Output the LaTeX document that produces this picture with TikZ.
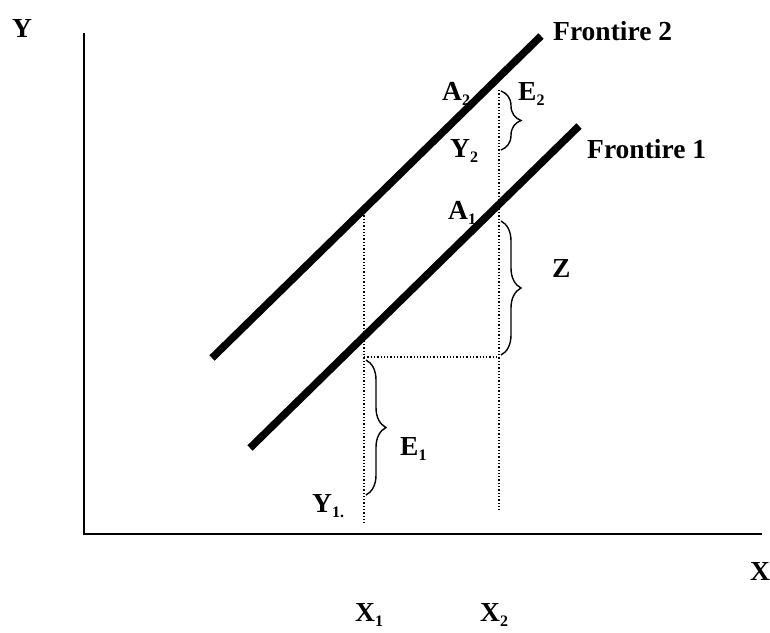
\documentclass[tikz,border=0pt]{standalone}
\usepackage{fontspec}
\setmainfont{Liberation Serif}
\usetikzlibrary{decorations.pathreplacing}
\newcommand{\lowsub}[1]{\raisebox{-5pt}{\fontsize{16}{16}\selectfont #1}}
\begin{document}
\begin{tikzpicture}[x=1pt,y=-1pt,
  lbl/.style={anchor=base west,inner sep=0pt,font=\fontsize{27.5}{30}\selectfont\bfseries},
  frontier/.style={line width=7.5pt},
  axis/.style={line width=2.2pt},
  guide/.style={dotted,line width=1.3pt},
  bracestyle/.style={decorate,decoration={brace,amplitude=20pt},line width=1.4pt}]
\useasboundingbox (0,0) rectangle (770,632);
% axes
\coordinate (o) at (84,534);
\coordinate (ytop) at (84,33);
\coordinate (xend) at (762,534);
\draw[axis] (ytop) -- (o) -- (xend);
% frontiers
\coordinate (f2a) at (212,358);
\coordinate (f2b) at (541,36);
\coordinate (f1a) at (250,448);
\coordinate (f1b) at (579,126);
\draw[frontier] (f2a) -- (f2b);
\draw[frontier] (f1a) -- (f1b);
% guides
\coordinate (g1t) at (364,212);
\coordinate (g1b) at (364,523);
\coordinate (g2t) at (499,90);
\coordinate (g2b) at (499,512);
\coordinate (h1) at (364,357);
\coordinate (h2) at (499,357);
\draw[guide] (g1t) -- (g1b);
\draw[guide] (g2t) -- (g2b);
\draw[guide] (h1) -- (h2);
% braces
\coordinate (b2t) at (501,91);
\coordinate (b2b) at (501,150);
\coordinate (bzt) at (501,221);
\coordinate (bzb) at (501,355);
\coordinate (b1t) at (366,360);
\coordinate (b1b) at (366,495);
\draw[bracestyle] (b2t) -- (b2b);
\draw[bracestyle] (bzt) -- (bzb);
\draw[bracestyle] (b1t) -- (b1b);
% labels
\node[lbl] (ly) at (12,37) {Y};
\node[lbl] (lx) at (750,580) {X};
\node[lbl] (lf2) at (553,40) {Frontire 2};
\node[lbl] (lf1) at (587,158) {Frontire 1};
\node[lbl] (la2) at (442,100) {A\lowsub{2}};
\node[lbl] (le2) at (518,100) {E\lowsub{2}};
\node[lbl] (ly2) at (450,157) {Y\lowsub{2}};
\node[lbl] (la1) at (448,219) {A\lowsub{1}};
\node[lbl] (lz) at (552,277) {Z};
\node[lbl] (le1) at (400,455) {E\lowsub{1}};
\node[lbl] (ly1) at (312,512) {Y\lowsub{1.}};
\node[lbl] (lx1) at (355,621) {X\lowsub{1}};
\node[lbl] (lx2) at (480,621) {X\lowsub{2}};
\end{tikzpicture}
\end{document}
